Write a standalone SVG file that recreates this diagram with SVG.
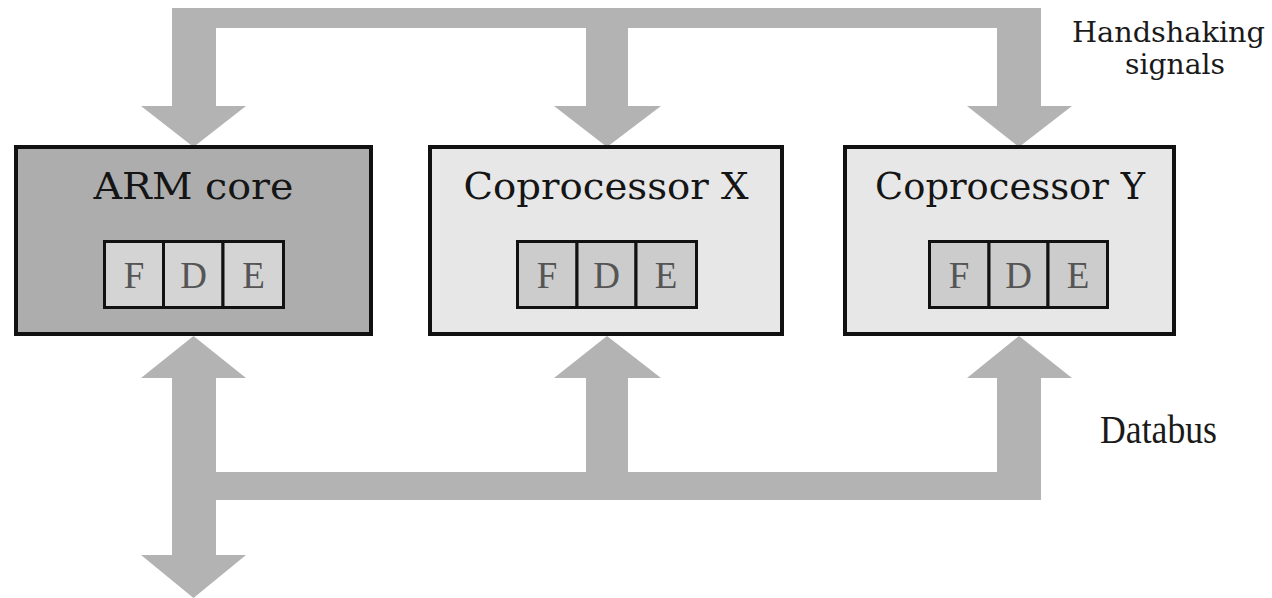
<svg xmlns="http://www.w3.org/2000/svg" width="1272" height="598" viewBox="0 0 1272 598">
  <style>
    .bus { fill: #b3b3b3; stroke: none; }
    .box { stroke: #111; stroke-width: 4; }
    .core { fill: #adadad; }
    .cop { fill: #e7e7e7; }
    .cell { stroke: #111; stroke-width: 3; }
    .cell-core { fill: #d4d4d4; }
    .cell-cop { fill: #cccccc; }
    .title { font-family: "DejaVu Serif", "Liberation Serif", serif; font-size: 38px; fill: #151515; text-anchor: middle; }
    .stage { font-family: "Liberation Serif", "DejaVu Serif", serif; font-size: 37px; fill: #555; text-anchor: middle; }
    .label { font-family: "DejaVu Serif", "Liberation Serif", serif; font-size: 27px; fill: #1a1a1a; text-anchor: middle; }
    .label2 { font-family: "Liberation Serif", serif; font-size: 39px; fill: #1a1a1a; text-anchor: middle; }
  </style>
  <rect width="1272" height="598" fill="#ffffff"/>

  <g id="connectors">
    <!-- handshaking bus: top bar with three drops into the units -->
    <path class="bus" d="M172,8 H1041 V106 H1072 L1019,147 L967,106 H997 V28 H628 V106 H661 L607,147 L554,106 H586 V28 H216 V106 H246 L193.5,147 L141,106 H172 Z"/>
    <!-- databus: left bidirectional trunk -->
    <path class="bus" d="M193.5,336 L246,378 H216 V555 H246 L193.5,598 L141,555 H172 V378 H141 Z"/>
    <!-- databus: horizontal bar with risers to the coprocessors -->
    <path class="bus" d="M214,472 H586 V378 H554 L607,336 L661,378 H628 V472 H997 V378 H967 L1019,336 L1072,378 H1041 V500 H214 Z"/>
  </g>

  <g id="arm-core">
    <rect class="box core" x="16" y="147" width="355" height="187"/>
    <text class="title" x="193.5" y="199" textLength="200" lengthAdjust="spacingAndGlyphs">ARM core</text>
    <rect class="cell cell-core" x="104.5" y="241.5" width="59" height="66"/>
    <rect class="cell cell-core" x="163.5" y="241.5" width="59.5" height="66"/>
    <rect class="cell cell-core" x="223" y="241.5" width="60.5" height="66"/>
    <text class="stage" x="134" y="288">F</text>
    <text class="stage" x="193.5" y="288">D</text>
    <text class="stage" x="253.5" y="288">E</text>
  </g>

  <g id="coprocessor-x">
    <rect class="box cop" x="430" y="147" width="352" height="187"/>
    <text class="title" x="606" y="199" textLength="285" lengthAdjust="spacingAndGlyphs">Coprocessor X</text>
    <rect class="cell cell-cop" x="517.5" y="241.5" width="59.5" height="66"/>
    <rect class="cell cell-cop" x="577" y="241.5" width="59" height="66"/>
    <rect class="cell cell-cop" x="636" y="241.5" width="60.5" height="66"/>
    <text class="stage" x="547" y="288">F</text>
    <text class="stage" x="606.5" y="288">D</text>
    <text class="stage" x="666" y="288">E</text>
  </g>

  <g id="coprocessor-y">
    <rect class="box cop" x="845" y="147" width="329" height="187"/>
    <text class="title" x="1010" y="199" textLength="270" lengthAdjust="spacingAndGlyphs">Coprocessor Y</text>
    <rect class="cell cell-cop" x="929.5" y="241.5" width="59.5" height="66"/>
    <rect class="cell cell-cop" x="989" y="241.5" width="59" height="66"/>
    <rect class="cell cell-cop" x="1048" y="241.5" width="59.5" height="66"/>
    <text class="stage" x="959" y="288">F</text>
    <text class="stage" x="1018.5" y="288">D</text>
    <text class="stage" x="1078" y="288">E</text>
  </g>

  <g id="labels">
    <text class="label" x="1168.5" y="42" textLength="193" lengthAdjust="spacingAndGlyphs">Handshaking</text>
    <text class="label" x="1175" y="74" textLength="100" lengthAdjust="spacingAndGlyphs">signals</text>
    <text class="label2" x="1158.5" y="443" textLength="117" lengthAdjust="spacingAndGlyphs">Databus</text>
  </g>
</svg>
